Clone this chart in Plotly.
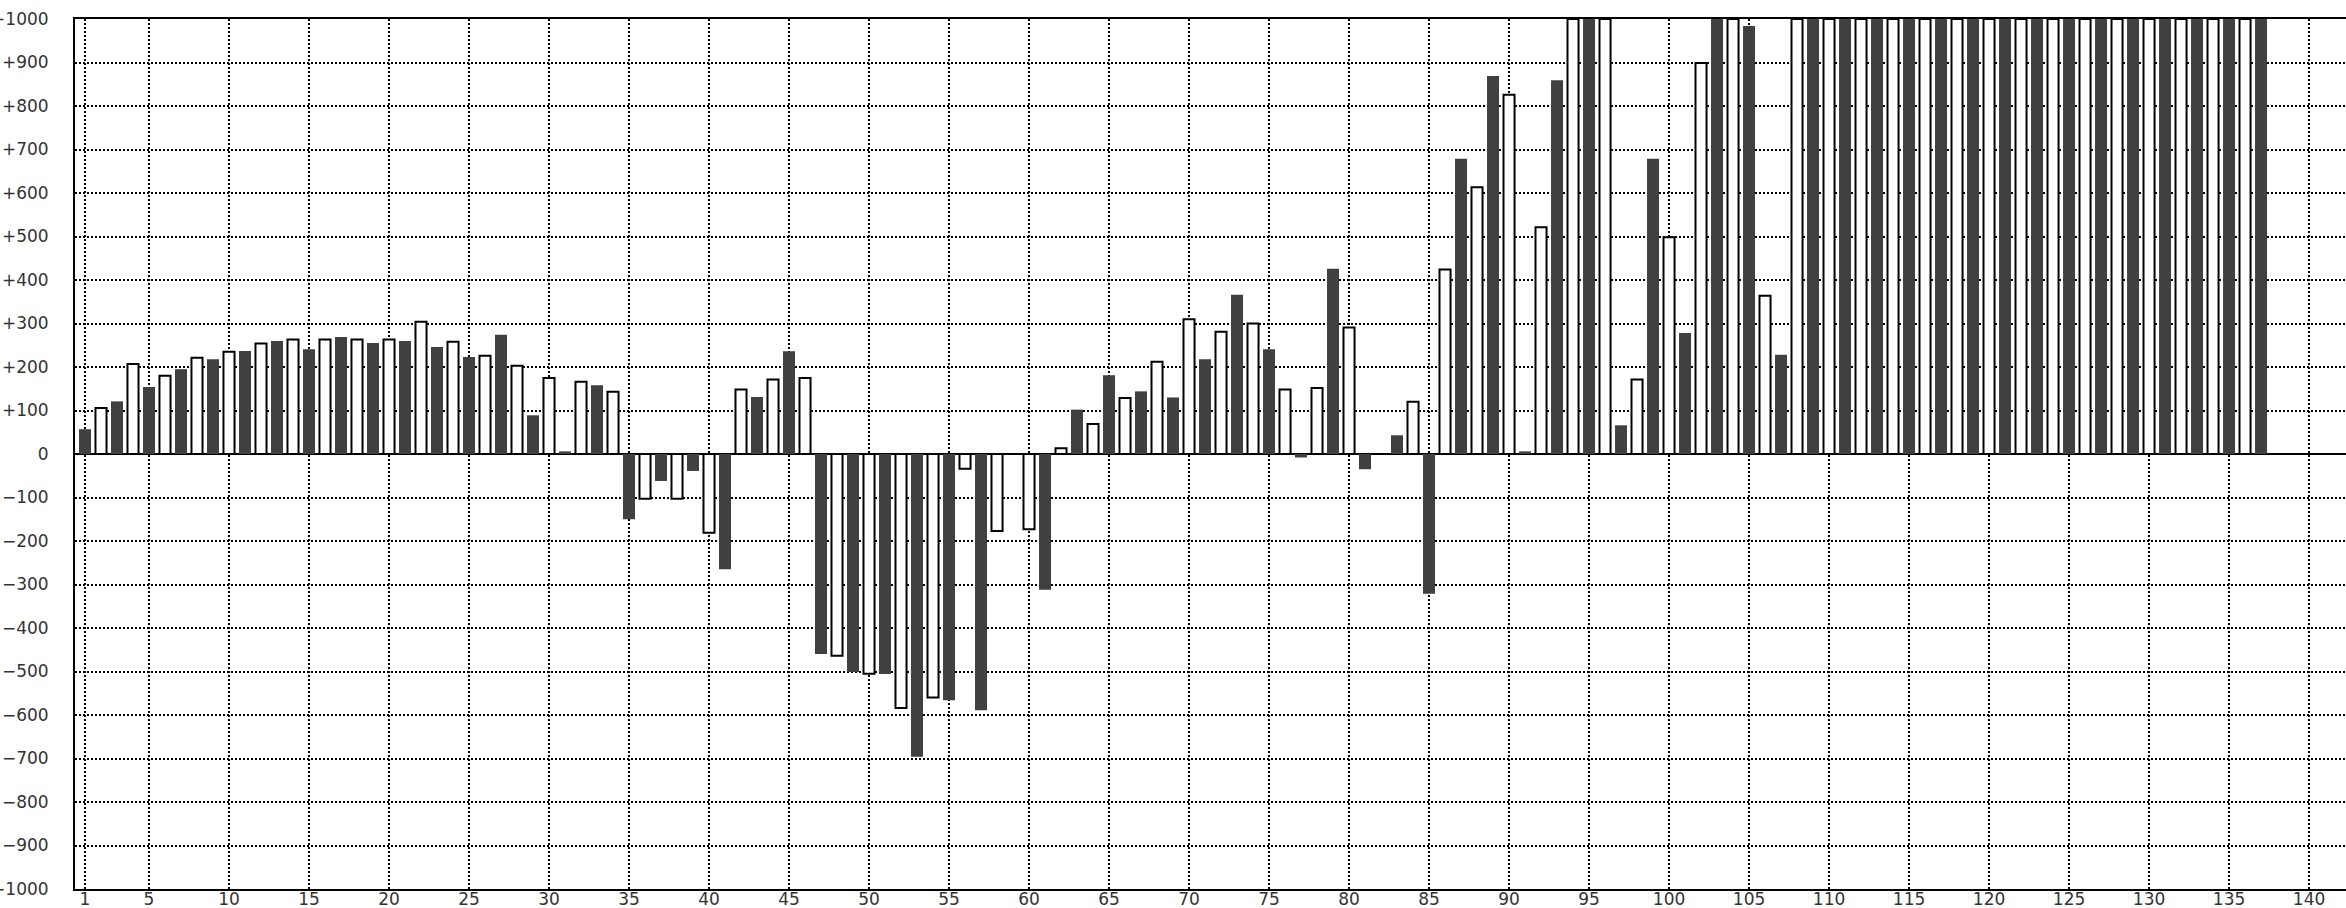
import plotly.graph_objects as go

# index 1..137 ; odd = dark bars, even = white (outlined) bars
values = [
    57, 106, 121, 207, 154, 180, 195, 221, 218, 235,
    237, 254, 260, 263, 241, 263, 269, 263, 255, 263,
    260, 304, 246, 258, 223, 226, 274, 203, 89, 175,
    6, 166, 158, 143, -150, -103, -62, -103, -39, -181,
    -265, 148, 131, 171, 236, 175, -460, -464, -501, -505,
    -506, -584, -696, -560, -566, -34, -589, -177, 0, -173,
    -312, 13, 102, 69, 181, 129, 144, 212, 130, 310,
    218, 281, 366, 300, 241, 148, -8, 152, 426, 291,
    -35, 0, 43, 120, -321, 424, 679, 613, 869, 826,
    6, 521, 859, 1000, 1000, 1000, 66, 171, 679, 498,
    278, 899, 1000, 1000, 984, 364, 228, 1000, 1000, 1000,
    1000, 1000, 1000, 1000, 1000, 1000, 1000, 1000, 1000, 1000,
    1000, 1000, 1000, 1000, 1000, 1000, 1000, 1000, 1000, 1000,
    1000, 1000, 1000, 1000, 1000, 1000, 1000,
]
positions = list(range(1, len(values) + 1))

x_tickvals = [1] + list(range(5, 141, 5))
x_ticktext = [str(v) for v in x_tickvals]
y_tickvals = list(range(-1000, 1001, 100))
y_ticktext = [("+" + str(v)) if v > 0 else ("0" if v == 0 else "\u2212" + str(-v)) for v in y_tickvals]

dark_x = [p for p in positions if p % 2 == 1]
dark_y = [values[p - 1] for p in dark_x]
white_x = [p for p in positions if p % 2 == 0]
white_y = [values[p - 1] for p in white_x]

fig = go.Figure()
fig.add_trace(go.Bar(x=dark_x, y=dark_y, width=0.75,
                     marker=dict(color="#404040", line=dict(width=0)),
                     showlegend=False))
fig.add_trace(go.Bar(x=white_x, y=white_y, width=0.69,
                     marker=dict(color="white", line=dict(color="black", width=2)),
                     showlegend=False))

grid_dash = "2px,2px"
fig.update_layout(
    width=2346, height=908,
    margin=dict(l=75, r=0, t=19, b=19, autoexpand=False),
    paper_bgcolor="white", plot_bgcolor="white",
    barmode="overlay",
    font=dict(family="DejaVu Sans", size=17, color="#333333"),
    xaxis=dict(range=[0.375, 142.31], tickmode="array", tickvals=x_tickvals, ticktext=x_ticktext,
               showgrid=True, gridcolor="black", gridwidth=1.5, griddash=grid_dash,
               showline=True, linecolor="black", linewidth=2, mirror=True,
               zeroline=False, ticks="", ticklabelstandoff=-6, automargin=False),
    yaxis=dict(range=[-1000, 1000], tickmode="array", tickvals=y_tickvals, ticktext=y_ticktext,
               showgrid=True, gridcolor="black", gridwidth=1.5, griddash=grid_dash,
               showline=True, linecolor="black", linewidth=2,
               zeroline=True, zerolinecolor="black", zerolinewidth=2,
               ticks="", ticklabelstandoff=21, automargin=False),
)

fig.write_html("out.html", config={"displayModeBar": False},
               post_script="document.body.style.margin='0px';")
